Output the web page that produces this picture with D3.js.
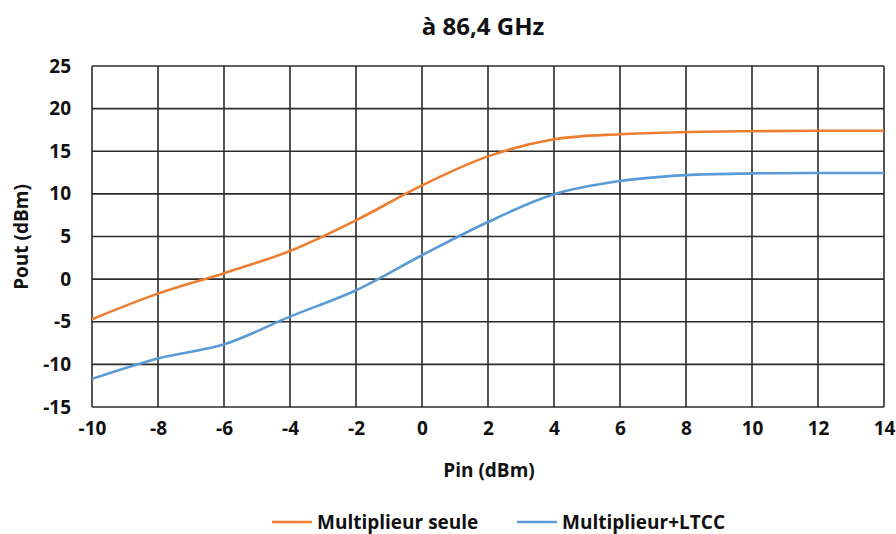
<!DOCTYPE html>
<html><head><meta charset="utf-8">
<script src="https://cdn.jsdelivr.net/npm/d3@7/dist/d3.min.js"></script>
<style>body{margin:0;background:#fff}</style>
</head><body>
<svg id="c" width="896" height="534"></svg>
<script>
const pin = [-10,-8,-6,-4,-2,0,2,4,6,8,10,12,14];
const seule = [-4.7,-1.7,0.7,3.3,6.9,11.0,14.4,16.4,17.0,17.25,17.35,17.4,17.4];
const ltcc = [-11.7,-9.3,-7.65,-4.4,-1.3,2.8,6.7,9.95,11.5,12.2,12.4,12.45,12.45];
const xTicks = [-10,-8,-6,-4,-2,0,2,4,6,8,10,12,14];
const yTicks = [-15,-10,-5,0,5,10,15,20,25];
const seriesNames = ["Multiplieur seule","Multiplieur+LTCC"];
const colors = ["#ED7D31","#5B9BD5"];

const svg = d3.select("#c");
const font = "'Open Sans', 'Noto Sans', sans-serif";
const L=92, R=884, T=66, B=407;
const x = d3.scaleLinear().domain([-10,14]).range([L,R]);
const y = d3.scaleLinear().domain([-15,25]).range([B,T]);

const grid = svg.append("g").attr("stroke","#2b2b2b").attr("stroke-width",1.6);
grid.selectAll(".v").data(xTicks).enter().append("line")
  .attr("x1",d=>x(d)).attr("x2",d=>x(d)).attr("y1",T).attr("y2",B);
grid.selectAll(".h").data(yTicks).enter().append("line")
  .attr("y1",d=>y(d)).attr("y2",d=>y(d)).attr("x1",L).attr("x2",R);

const fmt = d => String(d);
const xa = svg.append("g").attr("transform",`translate(0,${B})`)
  .call(d3.axisBottom(x).tickValues(xTicks).tickSize(0).tickPadding(15).tickFormat(fmt));
xa.select(".domain").remove();
xa.selectAll("text").attr("font-family",font).attr("font-weight","bold").attr("font-size",19).attr("fill","#111");

const ya = svg.append("g").attr("transform",`translate(${L},0)`)
  .call(d3.axisLeft(y).tickValues(yTicks).tickSize(0).tickPadding(21).tickFormat(fmt));
ya.select(".domain").remove();
ya.selectAll("text").attr("font-family",font).attr("font-weight","bold").attr("font-size",19).attr("fill","#111");

const line = d3.line().curve(d3.curveCatmullRom.alpha(0.5));
[seule,ltcc].forEach((s,i)=>{
  svg.append("path").attr("fill","none").attr("stroke",colors[i]).attr("stroke-width",2.6)
    .attr("d", line(pin.map((p,j)=>[x(p),y(s[j])])));
});

svg.append("text").attr("x",483).attr("y",35).attr("text-anchor","middle")
  .attr("font-family",font).attr("font-weight","bold").attr("font-size",24).attr("fill","#111").text("à 86,4 GHz");
svg.append("text").attr("x",489).attr("y",477).attr("text-anchor","middle")
  .attr("font-family",font).attr("font-weight","bold").attr("font-size",19).attr("fill","#111").text("Pin (dBm)");
svg.append("text").attr("transform","translate(28,237) rotate(-90)").attr("text-anchor","middle")
  .attr("font-family",font).attr("font-weight","bold").attr("font-size",19).attr("fill","#111").text("Pout (dBm)");

const legX = [272,517];
seriesNames.forEach((n,i)=>{
  svg.append("line").attr("x1",legX[i]).attr("x2",legX[i]+40).attr("y1",522).attr("y2",522)
    .attr("stroke",colors[i]).attr("stroke-width",2.6);
  svg.append("text").attr("x",legX[i]+45).attr("y",529).attr("font-family",font).attr("font-weight","bold")
    .attr("font-size",19).attr("fill","#111").text(n);
});
</script>
</body></html>
